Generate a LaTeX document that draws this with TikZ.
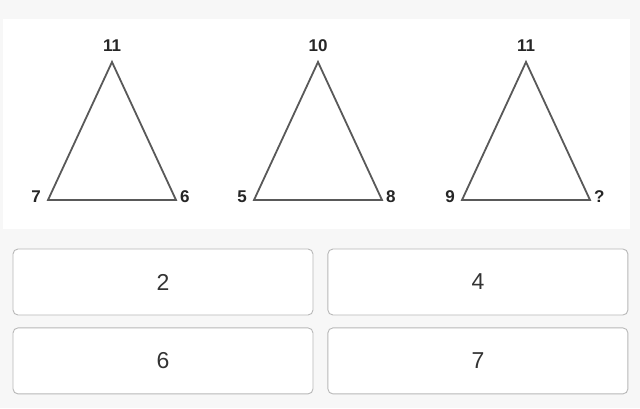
\documentclass[tikz,border=0pt]{standalone}
\usepackage{fontspec}
\setmainfont{Liberation Sans}
\usetikzlibrary{positioning}

\begin{document}
\begin{tikzpicture}[x=1pt,y=-1pt,
    num/.style={inner sep=0pt, text=black!85, font=\fontsize{17}{17}\selectfont\bfseries},
    side/.style={draw=black!65, line width=1.8pt, line join=miter},
    choice/.style={draw=black!28, line width=0.9pt, fill=white, rounded corners=5pt, inner sep=0pt,
      minimum width=300pt, minimum height=66pt, text=black!80,
      font=\fontsize{23}{23}\selectfont}]

  \useasboundingbox[fill=black!3] (0,0) rectangle (640,408);
  \fill[white] (3,19) rectangle (630,229);

  \foreach \cx/\t/\l/\r [count=\i] in {112/11/7/6, 318/10/5/8, 526/11/9/?}
  {
    \coordinate (top\i) at (\cx,62);
    \coordinate (left\i) at (\cx-64,200);
    \coordinate (right\i) at (\cx+64,200);
    \draw[side] (top\i) -- (left\i) -- (right\i) -- cycle;
    \node[num, above=10pt of top\i] (t\i) {\t};
    \node[num, left=7pt of left\i, yshift=3pt] (l\i) {\l};
    \node[num, right=4pt of right\i, yshift=3pt] (r\i) {\r};
  }

  \node[choice] (opt2) at (163,282) {2};
  \node[choice, right=14pt of opt2] (opt4) {4};
  \node[choice, below=12pt of opt2] (opt6) {6};
  \node[choice, right=14pt of opt6] (opt7) {7};
\end{tikzpicture}
\end{document}
